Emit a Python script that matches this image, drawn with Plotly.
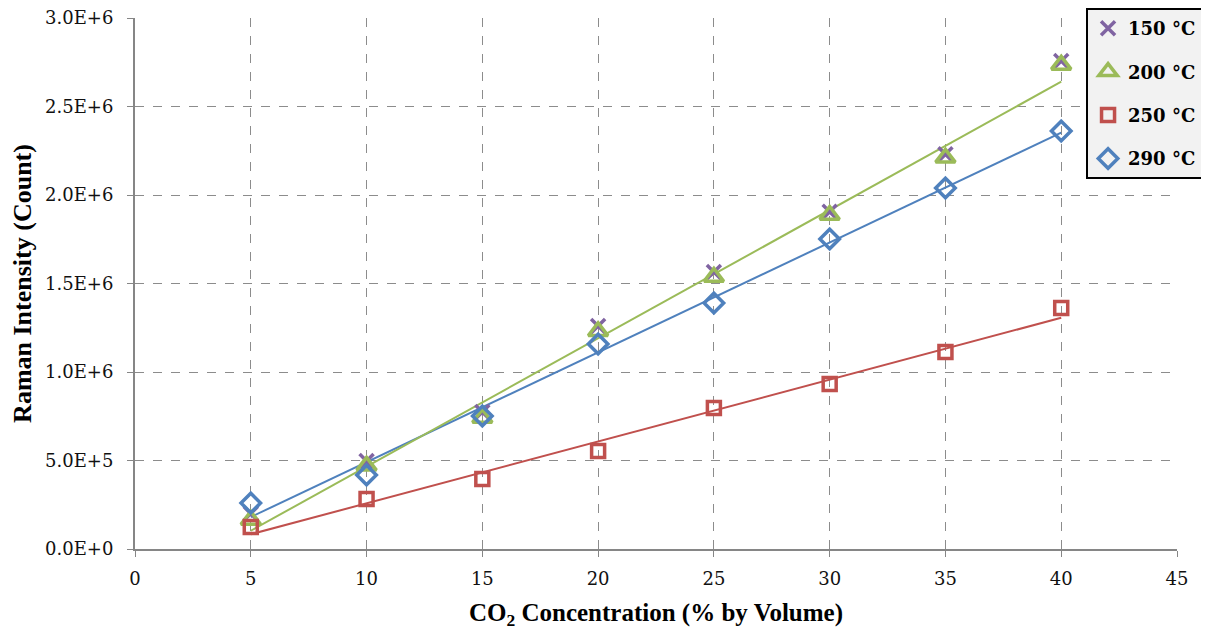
import numpy as np
import plotly.graph_objects as go

# Data
co2 = [5, 10, 15, 20, 25, 30, 35, 40]
series_names = ["150 °C", "200 °C", "250 °C", "290 °C"]
t150 = [0.200e6, 0.497e6, 0.774e6, 1.260e6, 1.565e6, 1.905e6, 2.230e6, 2.757e6]
t200 = [0.164e6, 0.470e6, 0.740e6, 1.230e6, 1.537e6, 1.887e6, 2.210e6, 2.735e6]
t250 = [0.124e6, 0.282e6, 0.395e6, 0.554e6, 0.797e6, 0.932e6, 1.113e6, 1.362e6]
t290 = [0.260e6, 0.418e6, 0.751e6, 1.158e6, 1.390e6, 1.751e6, 2.040e6, 2.362e6]

y_tickvals = [0, 0.5e6, 1.0e6, 1.5e6, 2.0e6, 2.5e6, 3.0e6]
y_ticktext = ["0.0E+0", "5.0E+5", "1.0E+6", "1.5E+6", "2.0E+6", "2.5E+6", "3.0E+6"]
x_tickvals = [0, 5, 10, 15, 20, 25, 30, 35, 40, 45]

colors = ["#8064A2", "#9BBB59", "#C0504D", "#4F81BD"]
symbols = ["x-thin", "triangle-up-open", "square-open", "diamond-open"]
sizes = [14, 17, 13, 15]
all_series = [t150, t200, t250, t290]

fig = go.Figure()

# Trendlines (linear fits) for the three visible lines
xs = np.array(co2, dtype=float)
for i in [2, 3, 1]:
    ys = np.array(all_series[i], dtype=float)
    m, b = np.polyfit(xs, ys, 1)
    xl = np.array([xs.min(), xs.max()])
    fig.add_trace(go.Scatter(
        x=xl, y=m * xl + b, mode="lines",
        line=dict(color=colors[i], width=2),
        showlegend=False, hoverinfo="skip"))

# Markers
for i in range(4):
    fig.add_trace(go.Scatter(
        x=co2, y=all_series[i], mode="markers", name=series_names[i],
        legendgroup=series_names[i],
        marker=dict(symbol=symbols[i], size=sizes[i], color=colors[i],
                    line=dict(color=colors[i], width=3.5))))

axis_common = dict(
    showline=True, linecolor="#868686", linewidth=2,
    ticks="outside", ticklen=6, tickcolor="#868686", tickwidth=1,
    showgrid=True, gridcolor="#8c8c8c", gridwidth=1, griddash="dash",
    zeroline=False, automargin=False, ticklabeloverflow="allow",
    tickfont=dict(family="DejaVu Serif", size=18, color="#111111"),
)

fig.update_layout(
    width=1201, height=626,
    margin=dict(l=127, r=32, t=10, b=85, autoexpand=False),
    paper_bgcolor="white", plot_bgcolor="white",
    xaxis=dict(range=[0, 45], tickvals=x_tickvals, ticklabelstandoff=6, **axis_common,
               title=dict(text="<b>CO<sub>2</sub> Concentration (% by Volume)</b>",
                          font=dict(family="Liberation Serif", size=25, color="black"),
                          standoff=16)),
    yaxis=dict(range=[0, 3.0e6], tickvals=y_tickvals, ticktext=y_ticktext,
               ticklabelstandoff=10, **axis_common,
               title=dict(text="<b>Raman Intensity (Count)</b>",
                          font=dict(family="Liberation Serif", size=26, color="black"),
                          standoff=8)),
    legend=dict(x=1.025, xanchor="right", y=1.0188, yanchor="top",
                bgcolor="#f2f2f2", bordercolor="black", borderwidth=2,
                font=dict(family="DejaVu Serif", size=18, color="black", weight="bold"),
                tracegroupgap=17, itemwidth=30),
    showlegend=True,
)

fig.write_html("out.html")
